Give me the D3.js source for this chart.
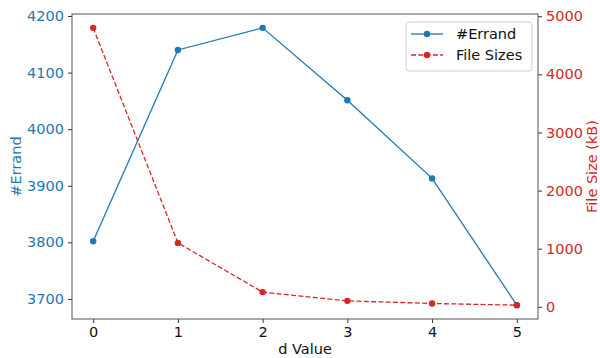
<!DOCTYPE html>
<html><head><meta charset="utf-8">
<script src="https://cdn.jsdelivr.net/npm/d3@7"></script>
<style>body{margin:0;background:#fff}svg{display:block}text{font-family:"DejaVu Sans",sans-serif}</style>
</head><body>
<svg id="c" width="600" height="358"></svg>
<script>
const dValues = [0, 1, 2, 3, 4, 5];
const errandCounts = [3802, 4140, 4179, 4051, 3913, 3689];
const fileSizes = [4800, 1100, 253, 103, 57, 29];
const leftTicks = [3700, 3800, 3900, 4000, 4100, 4200];
const rightTicks = [0, 1000, 2000, 3000, 4000, 5000];
const xTicks = [0, 1, 2, 3, 4, 5];

const BLUE = "#1f77b4", RED = "#d62728";
const m = {l: 72, r: 538, t: 14, b: 319};
const svg = d3.select("#c");
const fs = 14.5;

const x = d3.scaleLinear().domain([-0.25, 5.25]).range([m.l, m.r]);
function padDomain(arr){const lo=d3.min(arr),hi=d3.max(arr),p=(hi-lo)*0.05;return [lo-p,hi+p];}
const yL = d3.scaleLinear().domain(padDomain(errandCounts)).range([m.b, m.t]);
const yR = d3.scaleLinear().domain(padDomain(fileSizes)).range([m.b, m.t]);

// axes
const gx = svg.append("g").attr("transform",`translate(0,${m.b})`)
  .call(d3.axisBottom(x).tickValues(xTicks).tickFormat(d3.format("d")).tickSize(4).tickPadding(4));
const gl = svg.append("g").attr("transform",`translate(${m.l},0)`)
  .call(d3.axisLeft(yL).tickValues(leftTicks).tickFormat(d3.format("d")).tickSize(4).tickPadding(4));
const gr = svg.append("g").attr("transform",`translate(${m.r},0)`)
  .call(d3.axisRight(yR).tickValues(rightTicks).tickFormat(d3.format("d")).tickSize(4).tickPadding(4));
[gx,gl,gr].forEach(g=>{g.select(".domain").remove();g.selectAll("text").attr("font-size",fs).style("font-family","DejaVu Sans");g.selectAll("line").attr("stroke","#333");});
gx.selectAll("text").attr("fill","#111");
gl.selectAll("text").attr("fill",BLUE);
gr.selectAll("text").attr("fill",RED);

// frame
svg.append("rect").attr("x",m.l).attr("y",m.t).attr("width",m.r-m.l).attr("height",m.b-m.t)
  .attr("fill","none").attr("stroke","#555").attr("stroke-width",1);

// lines
const lineL = d3.line().x((d,i)=>x(dValues[i])).y(d=>yL(d));
const lineR = d3.line().x((d,i)=>x(dValues[i])).y(d=>yR(d));
svg.append("path").datum(errandCounts).attr("d",lineL).attr("fill","none").attr("stroke",BLUE).attr("stroke-width",1.3);
svg.selectAll(".pl").data(errandCounts).enter().append("circle").attr("cx",(d,i)=>x(dValues[i])).attr("cy",d=>yL(d)).attr("r",3.2).attr("fill",BLUE);
svg.append("path").datum(fileSizes).attr("d",lineR).attr("fill","none").attr("stroke",RED).attr("stroke-width",1.3).attr("stroke-dasharray","5,2.3");
svg.selectAll(".pr").data(fileSizes).enter().append("circle").attr("cx",(d,i)=>x(dValues[i])).attr("cy",d=>yR(d)).attr("r",3.2).attr("fill",RED);

// axis labels
svg.append("text").attr("x",(m.l+m.r)/2).attr("y",354).attr("text-anchor","middle").attr("font-size",fs).attr("fill","#111").text("d Value");
svg.append("text").attr("transform",`translate(21,${(m.t+m.b)/2}) rotate(-90)`).attr("text-anchor","middle").attr("font-size",fs).attr("fill",BLUE).text("#Errand");
svg.append("text").attr("transform",`translate(597,${(m.t+m.b)/2}) rotate(-90)`).attr("text-anchor","middle").attr("font-size",fs).attr("fill",RED).text("File Size (kB)");

// legend
const lg = svg.append("g");
lg.append("rect").attr("x",406).attr("y",22).attr("width",126).attr("height",49).attr("rx",3)
  .attr("fill","#fff").attr("fill-opacity",0.8).attr("stroke","#d0d0d0").attr("stroke-width",1);
const items = [{name:"#Errand",color:BLUE,dash:null},{name:"File Sizes",color:RED,dash:"5,2.3"}];
items.forEach((it,i)=>{
  const yy = 34 + i*21;
  lg.append("line").attr("x1",411).attr("x2",443).attr("y1",yy).attr("y2",yy).attr("stroke",it.color).attr("stroke-width",1.3).attr("stroke-dasharray",it.dash);
  lg.append("circle").attr("cx",427).attr("cy",yy).attr("r",3.2).attr("fill",it.color);
  lg.append("text").attr("x",456).attr("y",yy+5).attr("font-size",fs).attr("fill","#111").text(it.name);
});
</script>
</body></html>
